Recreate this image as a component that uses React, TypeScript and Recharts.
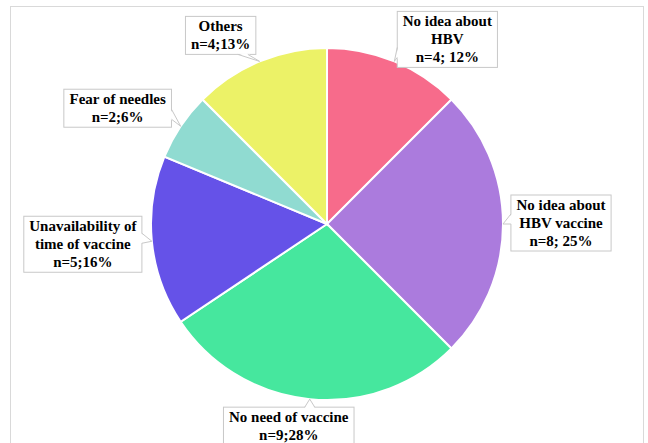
import React from "react"
import { PieChart, Pie, Cell } from "recharts"

const categories = [
  "No idea about HBV",
  "No idea about HBV vaccine",
  "No need of vaccine",
  "Unavailability of time of vaccine",
  "Fear of needles",
  "Others",
]
const counts = [4, 8, 9, 5, 2, 4]
const percents = [12, 25, 28, 16, 6, 13]
const nameLines = [
  ["No idea about", "HBV"],
  ["No idea about", "HBV vaccine"],
  ["No need of vaccine"],
  ["Unavailability of", "time of vaccine"],
  ["Fear of needles"],
  ["Others"],
]
const separators = ["; ", "; ", ";", ";", ";", ";"]

const colors = ["#f76b8b", "#ab7bdd", "#46e79e", "#6552e8", "#90dbd1", "#ecf267"]
// where each callout box sits relative to the point on the pie edge
const labelNudge = [
  [53, -22],
  [58, -1],
  [-21, 27],
  [-69, 3],
  [-63, -18],
  [-39, -26],
]

const data = categories.map((name, i) => ({
  name,
  value: counts[i],
  lines: [...nameLines[i], `n=${counts[i]}${separators[i]}${percents[i]}%`],
}))

const FAMILY = "Liberation Serif"
const FONT_SIZE = 15
const FONT = `bold ${FONT_SIZE}px "${FAMILY}"`
const LINE_H = 18
const BORDER = "#c8c8c8"

let ctx: CanvasRenderingContext2D | null = null
function textWidth(s: string) {
  if (!ctx) ctx = document.createElement("canvas").getContext("2d")
  if (!ctx) return s.length * 7
  ctx.font = FONT
  return ctx.measureText(s).width
}

function Callout(props: any) {
  const { cx, cy, midAngle, outerRadius, index } = props
  const RAD = Math.PI / 180
  const tx = cx + outerRadius * Math.cos(-midAngle * RAD)
  const ty = cy + outerRadius * Math.sin(-midAngle * RAD)
  const lines: string[] = data[index].lines
  const w = Math.max(...lines.map(textWidth)) + 11
  const h = 15 + (lines.length - 1) * LINE_H + 5
  const bx = tx + labelNudge[index][0] - w / 2
  const by = ty + labelNudge[index][1] - h / 2

  // pointer base on the box edge facing the tip
  let b1: number[], b2: number[], inner: number[][]
  if (ty > by + h) {
    const px = Math.min(Math.max(tx, bx + 10), bx + w - 10)
    b1 = [px - 8, by + h]
    b2 = [px + 2, by + h]
    inner = [[b1[0], by + h - 1], [b2[0], by + h - 1]]
  } else if (ty < by) {
    const px = Math.min(Math.max(tx, bx + 10), bx + w - 10)
    b1 = [px - 5, by]
    b2 = [px + 5, by]
    inner = [[b1[0], by + 1], [b2[0], by + 1]]
  } else if (tx < bx) {
    const py = Math.min(Math.max(ty, by + 10), by + h - 10)
    b1 = [bx, py - 10]
    b2 = [bx, py]
    inner = [[bx + 1, b1[1]], [bx + 1, b2[1]]]
  } else {
    const py = Math.min(Math.max(ty, by + 10), by + h - 10)
    b1 = [bx + w, py - 8]
    b2 = [bx + w, py + 2]
    inner = [[bx + w - 1, b1[1]], [bx + w - 1, b2[1]]]
  }

  return (
    <g>
      <rect x={bx} y={by} width={w} height={h} fill="#fff" stroke={BORDER} strokeWidth={1} />
      <polygon
        points={`${inner[0][0]},${inner[0][1]} ${tx},${ty} ${inner[1][0]},${inner[1][1]}`}
        fill="#fff"
        stroke="none"
      />
      <polyline
        points={`${b1[0]},${b1[1]} ${tx},${ty} ${b2[0]},${b2[1]}`}
        fill="none"
        stroke={BORDER}
        strokeWidth={1}
      />
      {lines.map((line, i) => (
        <text
          key={i}
          x={bx + w / 2}
          y={by + 15 + LINE_H * i}
          textAnchor="middle"
          style={{ fontFamily: FAMILY, fontWeight: 700, fontSize: FONT_SIZE }}
          fill="#000"
        >
          {line}
        </text>
      ))}
    </g>
  )
}

export default function App() {
  return (
    <div
      style={{
        position: "absolute",
        left: 0,
        top: 0,
        width: 648,
        height: 443,
        overflow: "hidden",
        background: "#fff",
      }}
    >
      <div
        style={{
          position: "absolute",
          left: 10,
          top: 6,
          width: 632,
          height: 480,
          border: "1px solid #d9d9d9",
        }}
      />
      <div style={{ position: "absolute", left: 0, top: 0 }}>
        <PieChart width={648} height={443} margin={{ top: 0, right: 0, bottom: 0, left: 0 }}>
          <Pie
            data={data}
            dataKey="value"
            nameKey="name"
            cx={327}
            cy={224}
            outerRadius={176}
            startAngle={90}
            endAngle={-270}
            stroke="#fff"
            strokeWidth={2}
            label={Callout}
            labelLine={false}
            isAnimationActive={false}
          >
            {data.map((d, i) => (
              <Cell key={d.name} fill={colors[i]} />
            ))}
          </Pie>
        </PieChart>
      </div>
    </div>
  )
}
